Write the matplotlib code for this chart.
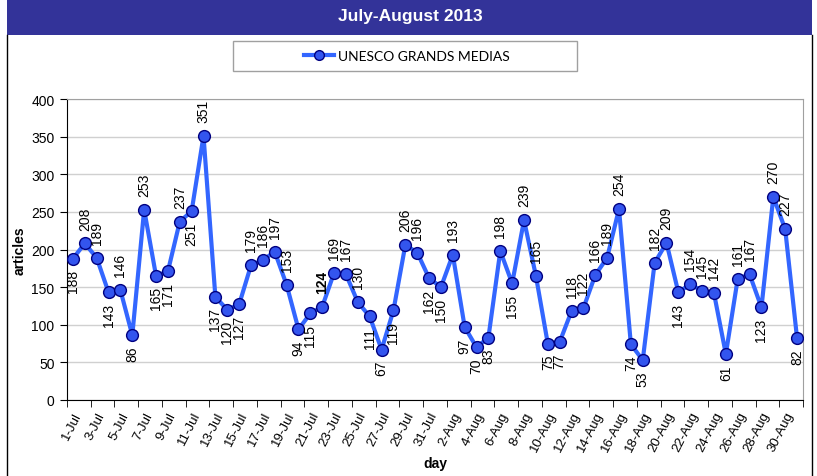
import matplotlib.pyplot as plt
from matplotlib.patches import Rectangle
from matplotlib.lines import Line2D

# data: July 1 - August 31, 2013
jul = [188, 208, 189, 143, 146, 86, 253, 165, 171, 237,
       251, 351, 137, 120, 127, 179, 186, 197, 153, 94,
       115, 124, 169, 167, 130, 111, 67, 119, 206, 196, 162]
aug = [150, 193, 97, 70, 83, 198, 155, 239, 165, 75,
       77, 118, 122, 166, 189, 254, 74, 53, 182, 209,
       143, 154, 145, 142, 61, 161, 167, 123, 270, 227, 82]
values = jul + aug
days = ['%d-Jul' % d for d in range(1, 32)] + ['%d-Aug' % d for d in range(1, 32)]

# label placement: a = above point, b = below point
place = ('baabababba' 'babbbaaaab' 'baaaabbbaa' 'b'
         'babbbabaab' 'baaaaabbaa' 'baaabaabaab')

blue = '#3366ff'
fig = plt.figure(figsize=(8.17, 4.77), dpi=100)
fig.patch.set_facecolor('white')

W, H = 817.0, 477.0
# title bar
fig.patches.append(Rectangle((7 / W, 1 - 36 / H), 805 / W, 36 / H, transform=fig.transFigure,
                             facecolor='#333399', edgecolor='none'))
fig.text(410 / W, 1 - 17 / H, 'July-August 2013', color='white', fontsize=12.5,
         fontweight='bold', ha='center', va='center', family='Liberation Sans')
# outer frame sides
fig.lines.append(Line2D([7 / W, 7 / W], [0, 1 - 36 / H], transform=fig.transFigure, color='black', lw=1))
fig.lines.append(Line2D([812 / W, 812 / W], [0, 1 - 36 / H], transform=fig.transFigure, color='black', lw=1))

# legend box
fig.patches.append(Rectangle((233 / W, 1 - 72 / H), 344 / W, 30 / H, transform=fig.transFigure,
                             facecolor='white', edgecolor='#a0a0a0', lw=1))
handle = Line2D([], [], color=blue, lw=3, marker='o', markersize=7,
                markerfacecolor='#3355ee', markeredgecolor='#000080')
fig.legend([handle], ['UNESCO GRANDS MEDIAS'], loc='center', frameon=False,
           bbox_to_anchor=(407 / W, 1 - 57 / H), prop={'family': 'Lato', 'size': 10},
           handlelength=2.2, handletextpad=0.3)

ax = fig.add_axes([67 / W, 76 / H, 736 / W, 301 / H])
x = list(range(len(values)))
ax.plot(x, values, color=blue, lw=3, marker='o', markersize=8.5,
        markerfacecolor='#3355ee', markeredgecolor='#000080', markeredgewidth=1, zorder=3)

for i, v in enumerate(values):
    up = place[i] == 'a'
    ax.annotate(str(v), (i, v), xytext=(0, 10 if up else -7.5), textcoords='offset points',
                rotation=90, ha='center', va='bottom' if up else 'top', fontsize=10,
                fontweight='bold' if i == 21 else 'normal', family='Liberation Sans')

ax.set_xlim(-0.5, len(values) - 0.5)
ax.set_ylim(0, 400)
ax.set_yticks(range(0, 401, 50))
ax.yaxis.grid(True, color='#d0d0d0', lw=1)
ax.set_axisbelow(True)

ax.set_xticks(x[::2])
ax.set_xticklabels(days[::2], rotation=63, ha='right', va='top', rotation_mode='anchor',
                   fontsize=9.5, family='Liberation Sans')
ax.set_xticks([i - 0.5 for i in range(0, len(values) + 1, 2)], minor=True)
ax.tick_params(axis='x', which='major', length=0, pad=7)
ax.tick_params(axis='x', which='minor', length=5, direction='out')
ax.tick_params(axis='y', length=5, direction='out', labelsize=10, pad=4)
for lab in ax.get_yticklabels():
    lab.set_family('Liberation Sans')

for s in ['top', 'right']:
    ax.spines[s].set_color('#a0a0a0')
ax.spines['left'].set_color('black')
ax.spines['bottom'].set_color('black')

ax.set_ylabel('articles', fontsize=10, fontweight='bold', family='Liberation Sans', labelpad=3)
ax.set_xlabel('day', fontsize=10, fontweight='bold', family='Liberation Sans', labelpad=2)

fig.savefig('out.png', dpi=100)
